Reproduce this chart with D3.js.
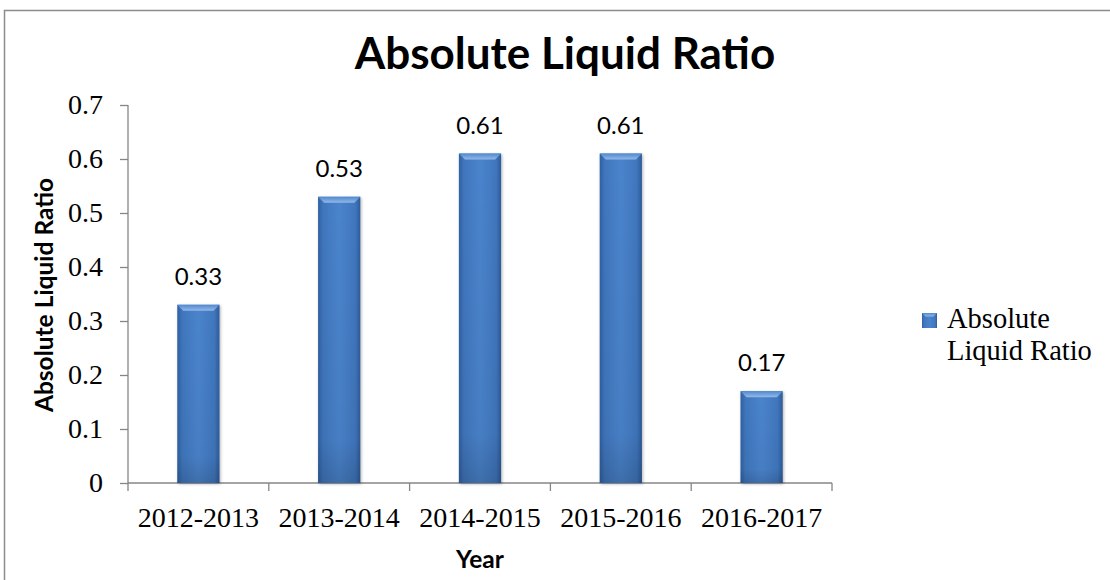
<!DOCTYPE html>
<html>
<head>
<meta charset="utf-8">
<script src="https://cdn.jsdelivr.net/npm/d3@7"></script>
<style>
  html, body { margin: 0; padding: 0; background: #fff; }
  svg { display: block; }
</style>
</head>
<body>
<div id="chart"></div>
<script>
// Absolute liquid ratio by financial year
const years = ["2012-2013", "2013-2014", "2014-2015", "2015-2016", "2016-2017"];
const ratios = [0.33, 0.53, 0.61, 0.61, 0.17];
const yTicks = [0, 0.1, 0.2, 0.3, 0.4, 0.5, 0.6, 0.7];
const seriesName = ["Absolute", "Liquid Ratio"];

const W = 1110, H = 580;
const svg = d3.select("#chart").append("svg").attr("width", W).attr("height", H);

const defs = svg.append("defs");
const grad = defs.append("linearGradient").attr("id", "barGrad")
  .attr("x1", "0").attr("x2", "1").attr("y1", "0").attr("y2", "0");
[[0, "#2f60a0"], [0.12, "#4076bd"], [0.5, "#4a84cc"], [0.88, "#4076bd"], [1, "#2d5b98"]]
  .forEach(([o, c]) => grad.append("stop").attr("offset", o).attr("stop-color", c));
const vgrad = defs.append("linearGradient").attr("id", "barShade")
  .attr("x1", "0").attr("x2", "0").attr("y1", "0").attr("y2", "1");
[[0, "#000", 0], [0.85, "#000", 0.04], [1, "#000", 0.16]]
  .forEach(([o, c, a]) => vgrad.append("stop").attr("offset", o).attr("stop-color", c).attr("stop-opacity", a));
const topGrad = defs.append("linearGradient").attr("id", "topGrad")
  .attr("x1", "0").attr("x2", "0").attr("y1", "0").attr("y2", "1");
[[0, "#5189cf"], [1, "#93b9e8"]]
  .forEach(([o, c]) => topGrad.append("stop").attr("offset", o).attr("stop-color", c));
const filt = defs.append("filter").attr("id", "barShadow")
  .attr("x", "-20%").attr("y", "-5%").attr("width", "140%").attr("height", "115%");
filt.append("feDropShadow").attr("dx", 1).attr("dy", 1).attr("stdDeviation", 1.5)
  .attr("flood-color", "#000").attr("flood-opacity", 0.3);

// outer frame
svg.append("path")
  .attr("d", `M4.5,${H} L4.5,10.5 L${W},10.5`)
  .attr("fill", "none").attr("stroke", "#8c8c8c").attr("stroke-width", 1.5);

const plot = { left: 128, right: 832, top: 105, bottom: 483 };
const serif = "'Liberation Serif', 'Times New Roman', serif";
const sans = "Lato, 'Open Sans', sans-serif";

const x = d3.scaleBand().domain(years).range([plot.left, plot.right]).paddingInner(0.7).paddingOuter(0.35);
const xBand = d3.scaleBand().domain(years).range([plot.left, plot.right]);
const y = d3.scaleLinear().domain([0, 0.7]).range([plot.bottom, plot.top]);

// y axis
const yAxis = svg.append("g").attr("transform", `translate(${plot.left},0)`)
  .call(d3.axisLeft(y).tickValues(yTicks).tickFormat(d => d === 0 ? "0" : d3.format(".1f")(d)).tickSize(8).tickPadding(17));
yAxis.select(".domain").attr("stroke", "#868686").attr("stroke-width", 1.3).attr("d", `M0,${plot.top}V${plot.bottom}`);
yAxis.selectAll(".tick line").attr("stroke", "#868686").attr("stroke-width", 1.3);
yAxis.selectAll(".tick text")
  .attr("font-family", serif).attr("font-size", 28).attr("fill", "#000");

// x axis
const xAxis = svg.append("g").attr("transform", `translate(0,${plot.bottom})`)
  .call(d3.axisBottom(xBand).tickSize(0));
xAxis.select(".domain").attr("stroke", "#868686").attr("stroke-width", 1.3)
  .attr("d", `M${plot.left},0H${plot.right}`);
xAxis.selectAll(".tick text")
  .attr("font-family", serif).attr("font-size", 28).attr("fill", "#000")
  .attr("y", 44).attr("dy", 0);
// category boundary ticks
const bounds = years.map(d => xBand(d)).concat([xBand(years[years.length - 1]) + xBand.bandwidth()]);
svg.append("g").selectAll("line").data(bounds).join("line")
  .attr("x1", d => d).attr("x2", d => d)
  .attr("y1", plot.bottom).attr("y2", plot.bottom + 8)
  .attr("stroke", "#868686").attr("stroke-width", 1.3);

// bars
const data = years.map((d, i) => ({ year: d, v: ratios[i] }));
const bw = x.bandwidth();
const bev = 6;
const bars = svg.append("g").selectAll("g").data(data).join("g");
bars.append("rect")
  .attr("x", d => x(d.year)).attr("y", d => y(d.v))
  .attr("width", bw).attr("height", d => y(0) - y(d.v))
  .attr("fill", "url(#barGrad)").attr("filter", "url(#barShadow)");
bars.append("rect")
  .attr("x", d => x(d.year)).attr("y", d => y(d.v))
  .attr("width", bw).attr("height", d => y(0) - y(d.v))
  .attr("fill", "url(#barShade)");
bars.append("path")
  .attr("d", d => {
    const x0 = x(d.year), x1 = x0 + bw, t = y(d.v);
    return `M${x0},${t}L${x1},${t}L${x1 - bev},${t + bev}L${x0 + bev},${t + bev}Z`;
  })
  .attr("fill", "url(#topGrad)");

// value labels
svg.append("g").selectAll("text").data(data).join("text")
  .attr("x", d => x(d.year) + bw / 2)
  .attr("y", d => y(d.v) - 20)
  .attr("text-anchor", "middle")
  .attr("font-family", sans).attr("font-size", 24).attr("fill", "#000")
  .text(d => d3.format(".2f")(d.v));

// title
svg.append("text")
  .attr("x", 565).attr("y", 69).attr("text-anchor", "middle")
  .attr("font-family", sans).attr("font-weight", "bold")
  .attr("font-size", 44).attr("fill", "#000")
  .text("Absolute Liquid Ratio");

// y axis title
svg.append("text")
  .attr("transform", `translate(53,${(plot.top + plot.bottom) / 2 + 1}) rotate(-90)`)
  .attr("text-anchor", "middle")
  .attr("font-family", sans).attr("font-weight", "bold")
  .attr("font-size", 24.5).attr("fill", "#000")
  .text("Absolute Liquid Ratio");

// x axis title
svg.append("text")
  .attr("x", 480).attr("y", 568).attr("text-anchor", "middle")
  .attr("font-family", sans).attr("font-weight", "bold")
  .attr("font-size", 24.5).attr("fill", "#000")
  .text("Year");

// legend
const lg = svg.append("g").attr("transform", "translate(922,313)");
lg.append("rect").attr("width", 15).attr("height", 15).attr("fill", "url(#barGrad)");
lg.append("path").attr("d", "M0,0L15,0L11.5,3.5L3.5,3.5Z").attr("fill", "url(#topGrad)");
lg.append("text")
  .attr("font-family", serif).attr("font-size", 28.5).attr("fill", "#000")
  .selectAll("tspan").data(seriesName).join("tspan")
  .attr("x", 25).attr("y", (d, i) => 15 + i * 32)
  .text(d => d);
</script>
</body>
</html>
